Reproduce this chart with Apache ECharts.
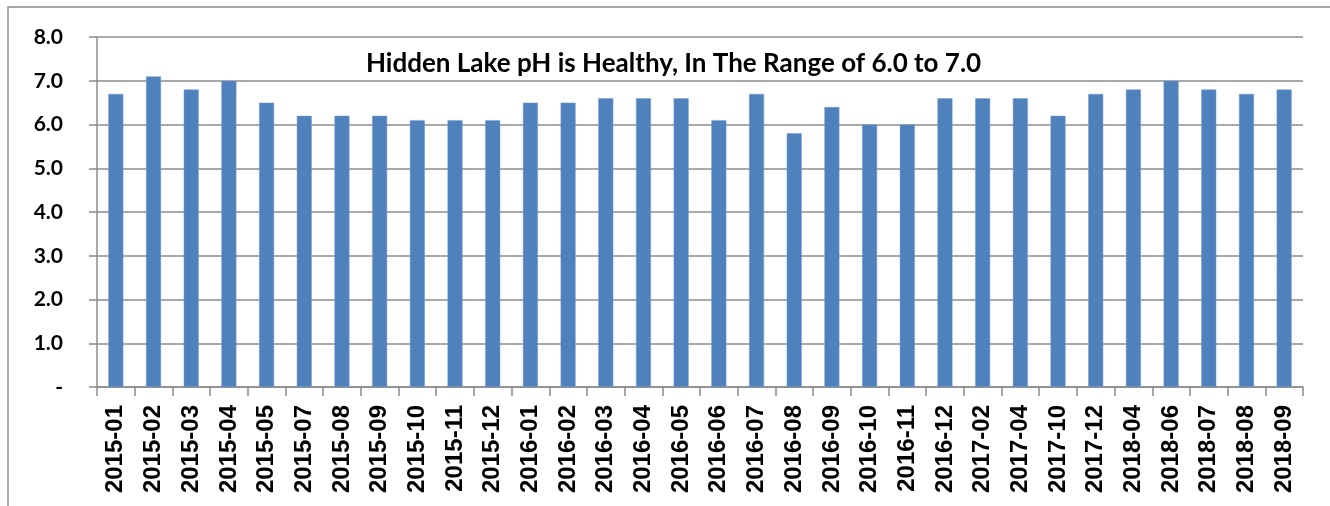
<!DOCTYPE html>
<html>
<head>
<meta charset="utf-8">
<script src="https://cdn.jsdelivr.net/npm/echarts@6/dist/echarts.min.js"></script>
<style>
  html, body { margin: 0; padding: 0; background: #fff; }
  #chart { width: 1330px; height: 506px; }
</style>
</head>
<body>
<div id="chart"></div>
<script>
var months = ['2015-01', '2015-02', '2015-03', '2015-04', '2015-05', '2015-07', '2015-08', '2015-09',
    '2015-10', '2015-11', '2015-12', '2016-01', '2016-02', '2016-03', '2016-04', '2016-05',
    '2016-06', '2016-07', '2016-08', '2016-09', '2016-10', '2016-11', '2016-12', '2017-02',
    '2017-04', '2017-10', '2017-12', '2018-04', '2018-06', '2018-07', '2018-08', '2018-09'];
var phValues = [6.7, 7.1, 6.8, 7.0, 6.5, 6.2, 6.2, 6.2, 6.1, 6.1, 6.1, 6.5, 6.5, 6.6, 6.6, 6.6,
    6.1, 6.7, 5.8, 6.4, 6.0, 6.0, 6.6, 6.6, 6.6, 6.2, 6.7, 6.8, 7.0, 6.8, 6.7, 6.8];
var chartTitle = 'Hidden Lake pH is Healthy, In The Range of 6.0 to 7.0';

var chart = echarts.init(document.getElementById('chart'));
var grey = '#8c8c8c';

chart.setOption({
    animation: false,
    title: {
        text: chartTitle,
        left: 361,
        top: 46,
        textStyle: { fontFamily: 'Lato', fontWeight: 'bold', fontSize: 26, color: '#000' }
    },
    graphic: [{
        type: 'rect',
        shape: { x: 8, y: 7, width: 1340, height: 520 },
        style: { fill: 'none', stroke: grey, lineWidth: 1.5 },
        silent: true
    }],
    grid: { left: 97, right: 27, top: 37, bottom: 119 },
    xAxis: {
        type: 'category',
        data: months,
        axisLine: { lineStyle: { color: grey, width: 1.5 } },
        axisTick: { show: true, length: 9, lineStyle: { color: grey, width: 1.5 } },
        axisLabel: {
            interval: 0,
            rotate: 90,
            margin: 18,
            fontFamily: 'Liberation Sans',
            fontWeight: 'bold',
            fontSize: 24,
            color: '#000'
        }
    },
    yAxis: {
        type: 'value',
        min: 0,
        max: 8,
        interval: 1,
        axisLine: { show: true, lineStyle: { color: grey, width: 1.5 } },
        axisTick: { show: true, length: 8, lineStyle: { color: grey, width: 1.5 } },
        splitLine: { lineStyle: { color: grey, width: 1.5 } },
        axisLabel: {
            margin: 34,
            fontFamily: 'Lato',
            fontWeight: 'bold',
            fontSize: 21,
            color: '#000',
            formatter: function(v) { return v === 0 ? '-' : v.toFixed(1); }
        }
    },
    series: [{
        type: 'bar',
        data: phValues,
        barWidth: 15,
        itemStyle: { color: '#4f81bd', borderColor: '#7a9fd0', borderWidth: 0.5 }
    }]
});
</script>
</body>
</html>
